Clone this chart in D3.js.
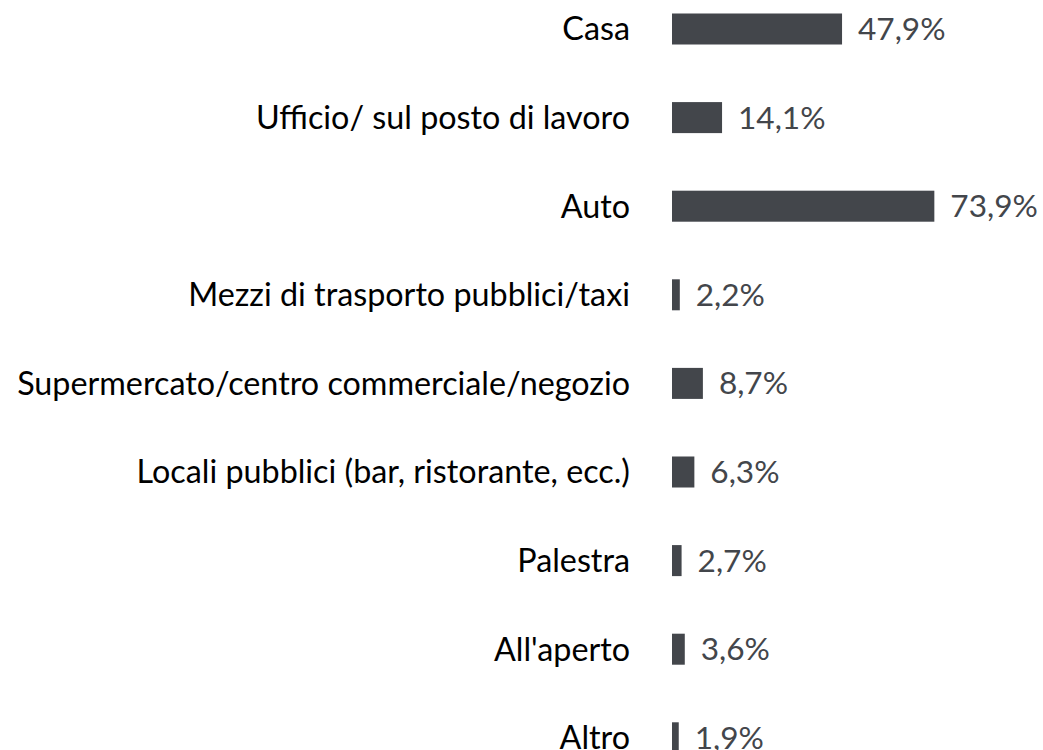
<!DOCTYPE html>
<html>
<head>
<meta charset="utf-8">
<script src="https://cdn.jsdelivr.net/npm/d3@7"></script>
<style>
html,body{margin:0;padding:0;background:#fff;}
svg{display:block;}
</style>
</head>
<body>
<svg id="chart" width="1043" height="750"></svg>
<script>
const categories = [
  "Casa",
  "Ufficio/ sul posto di lavoro",
  "Auto",
  "Mezzi di trasporto pubblici/taxi",
  "Supermercato/centro commerciale/negozio",
  "Locali pubblici (bar, ristorante, ecc.)",
  "Palestra",
  "All'aperto",
  "Altro"
];
const values = [47.9, 14.1, 73.9, 2.2, 8.7, 6.3, 2.7, 3.6, 1.9];
const valueLabels = ["47,9%", "14,1%", "73,9%", "2,2%", "8,7%", "6,3%", "2,7%", "3,6%", "1,9%"];

const svg = d3.select("#chart");
const x = d3.scaleLinear().domain([0, 100]).range([672, 1027]);
const y = d3.scaleBand().domain(categories).range([-15.3, 782.1]).paddingInner(0.65).paddingOuter(0.325);

const font = "Lato, 'Open Sans', sans-serif";
const data = categories.map((c, i) => ({c, v: values[i], l: valueLabels[i]}));

svg.selectAll("rect.bar").data(data).join("rect")
  .attr("class", "bar")
  .attr("x", x(0))
  .attr("y", d => y(d.c))
  .attr("width", d => x(d.v) - x(0))
  .attr("height", y.bandwidth())
  .attr("fill", "#43464b");

svg.selectAll("text.cat").data(data).join("text")
  .attr("class", "cat")
  .attr("x", 630)
  .attr("y", d => y(d.c) + y.bandwidth() / 2)
  .attr("dy", "0.35em")
  .attr("text-anchor", "end")
  .attr("font-family", font)
  .attr("font-size", 32.3)
  .attr("fill", "#000")
  .text(d => d.c);

svg.selectAll("text.val").data(data).join("text")
  .attr("class", "val")
  .attr("x", d => x(d.v) + 16)
  .attr("y", d => y(d.c) + y.bandwidth() / 2)
  .attr("dy", "0.35em")
  .attr("font-family", font)
  .attr("font-size", 31.6)
  .attr("fill", "#43464b")
  .text(d => d.l);
</script>
</body>
</html>
